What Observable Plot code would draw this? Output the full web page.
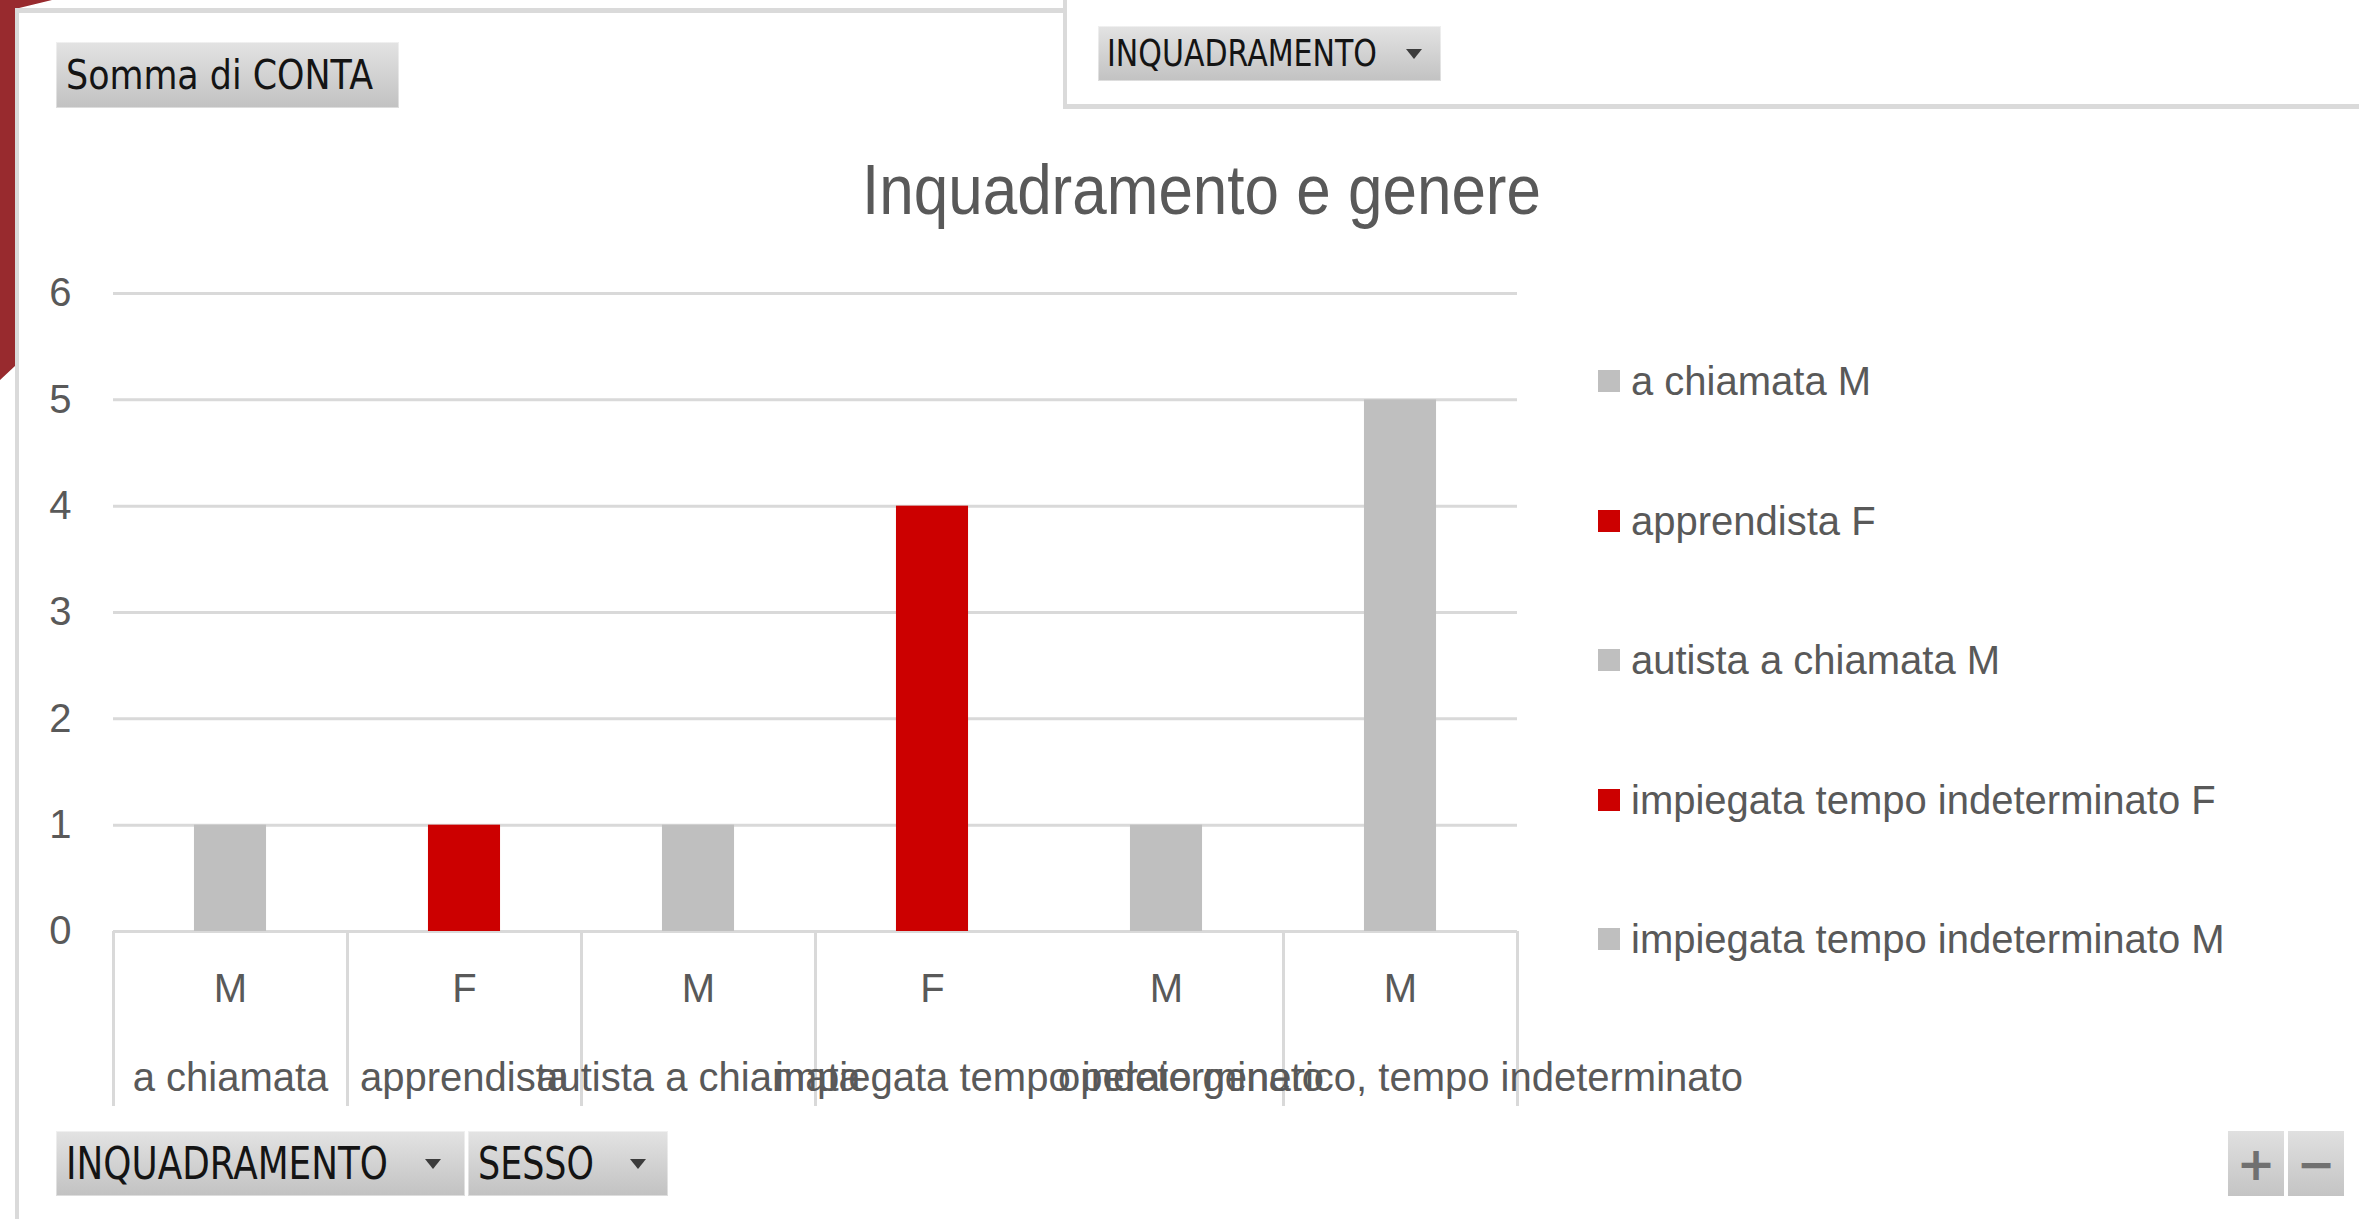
<!DOCTYPE html>
<html>
<head>
<meta charset="utf-8">
<script src="https://cdn.jsdelivr.net/npm/d3@7"></script>
<script src="https://cdn.jsdelivr.net/npm/@observablehq/plot@0.6"></script>
<style>
  html, body { margin: 0; padding: 0; background: #ffffff; }
  body { width: 2359px; height: 1219px; position: relative; overflow: hidden; font-family: "Liberation Sans", Arial, sans-serif; }
  .abs { position: absolute; }
  .fitText { display: inline-block; white-space: nowrap; transform-origin: left center; }
  .btn { position: absolute; background: linear-gradient(#e3e3e3, #c2c2c2); box-shadow: inset 0 0 0 1px rgba(255,255,255,0.45); display: flex; align-items: center; }
  .btn .fitText { font-family: "DejaVu Sans", Tahoma, sans-serif; color: #141414; line-height: 1; }
  .arrow { position: absolute; width: 0; height: 0; border-left: 8px solid transparent; border-right: 8px solid transparent; border-top: 10px solid #3c3c3c; }
  .pm { position: absolute; background: linear-gradient(#e0e0e0, #c4c4c4); display: flex; align-items: center; justify-content: center; color: #707070; font-family: "DejaVu Sans", sans-serif; font-weight: bold; font-size: 46px; line-height: 1; }
  #legend { position: absolute; left: 1598px; top: 361px; display: flex; flex-direction: column; gap: 99.5px; }
  .item { display: flex; align-items: center; height: 40px; font-size: 40px; color: #595959; line-height: 1; white-space: nowrap; }
  .sw { width: 22px; height: 22px; margin-right: 11px; }
  #chart { position: absolute; left: 0; top: 0; }
</style>
</head>
<body>
<script>
// ---- Data ----
const inquadramento = [
  "a chiamata",
  "apprendista",
  "autista a chiamata",
  "impiegata tempo indeterminato",
  "impiegata tempo indeterminato",
  "operaio generico, tempo indeterminato"
];
const sesso = ["M", "F", "M", "F", "M", "M"];
const conta = [1, 1, 1, 4, 1, 5];
const yTicks = [0, 1, 2, 3, 4, 5, 6];
const sessoDomain = ["F", "M"];
const sessoColors = ["#CC0000", "#BFBFBF"];
const titleText = "Inquadramento e genere";
const legendVisible = 5; // the reference legend shows only the first five series

// ---- Derived tables ----
const rows = inquadramento.map((q, i) => ({i, q, s: sesso[i], v: conta[i]}));
const groups = [];
rows.forEach(r => {
  const g = groups[groups.length - 1];
  if (g && g.label === r.q) g.end = r.i;
  else groups.push({label: r.q, start: r.i, end: r.i});
});
groups.forEach(g => g.center = (g.start + g.end) / 2);
const bounds = [groups[0].start - 0.5, ...groups.map(g => g.end + 0.5)];

// ---- Chart ----
const chart = Plot.plot({
  width: 1800,
  height: 1130,
  marginLeft: 113,
  marginRight: 283,
  marginTop: 293,
  marginBottom: 199,
  style: {background: "transparent", overflow: "visible", fontFamily: "'Liberation Sans', Arial, sans-serif", fontSize: "40px", color: "#595959"},
  x: {domain: [-0.5, rows.length - 0.5], axis: null},
  y: {domain: [0, 6], ticks: yTicks, tickFormat: d3.format("d"), label: null, tickSize: 0, tickPadding: 42},
  color: {domain: sessoDomain, range: sessoColors},
  marks: [
    Plot.ruleY(yTicks, {stroke: "#d9d9d9", strokeWidth: 3}),
    Plot.rect(rows, {x1: d => d.i - 0.154, x2: d => d.i + 0.154, y1: 0, y2: "v", fill: "s"}),
    Plot.ruleX(bounds, {x: d => d, y1: 0, y2: 0, insetBottom: -175, stroke: "#d9d9d9", strokeWidth: 3}),
    Plot.text(rows, {x: "i", text: "s", frameAnchor: "bottom", dy: 70, fill: "#595959", fontSize: 40}),
    Plot.text(groups, {x: "center", text: "label", frameAnchor: "bottom", dy: 159, fill: "#595959", fontSize: 40})
  ]
});
chart.id = "chart";
document.body.appendChild(chart);

// ---- Decorations (Excel pivot chart frame) ----
function addDiv(css, html) {
  const d = document.createElement("div");
  d.className = "abs";
  d.style.cssText += css;
  if (html) d.innerHTML = html;
  document.body.appendChild(d);
  return d;
}
// red sidebar
addDiv("left:0;top:0;width:52px;height:380px;background:#982a2e;clip-path:polygon(0 0,52px 0,15px 9px,15px 366px,0 380px);");
// chart frame lines
addDiv("left:15px;top:8px;width:4px;height:1211px;background:#dadada;");
addDiv("left:15px;top:8px;width:1050px;height:5px;background:#dadada;");
// filter panel
addDiv("left:1063px;top:0;width:4px;height:108px;background:#dadada;");
addDiv("left:1063px;top:104px;width:1296px;height:5px;background:#dadada;");

function fit(el, w) {
  const r = el.getBoundingClientRect().width;
  el.style.transform = `scaleX(${w / r})`;
}
function button(left, top, width, height, label, fontSize, textLeft, textWidth, arrowX) {
  const b = document.createElement("div");
  b.className = "btn";
  b.style.left = left + "px"; b.style.top = top + "px";
  b.style.width = width + "px"; b.style.height = height + "px";
  const t = document.createElement("span");
  t.className = "fitText";
  t.style.fontSize = fontSize + "px";
  t.style.marginLeft = (textLeft - left) + "px";
  t.textContent = label;
  b.appendChild(t);
  if (arrowX != null) {
    const a = document.createElement("div");
    a.className = "arrow";
    a.style.left = (arrowX - left - 8) + "px";
    a.style.top = (height / 2 - 5) + "px";
    b.appendChild(a);
  }
  document.body.appendChild(b);
  fit(t, textWidth);
}
button(56, 42, 343, 66, "Somma di CONTA", 41, 66, 307, null);
button(1098, 26, 343, 55, "INQUADRAMENTO", 37, 1107, 270, 1414);
button(56, 1131, 409, 65, "INQUADRAMENTO", 44, 66, 322, 433);
button(468, 1131, 200, 65, "SESSO", 44, 478, 116, 638);

const plus = document.createElement("div"); plus.className = "pm";
plus.style.cssText += "left:2228px;top:1131px;width:56px;height:65px;"; plus.textContent = "+";
document.body.appendChild(plus);
const minus = document.createElement("div"); minus.className = "pm";
minus.style.cssText += "left:2288px;top:1131px;width:56px;height:65px;"; minus.textContent = "\u2212";
document.body.appendChild(minus);

// ---- Title ----
const title = document.createElement("div");
title.className = "abs";
title.style.cssText += "left:862px;top:155px;";
const tspan = document.createElement("span");
tspan.className = "fitText";
tspan.style.cssText += "font-size:70px;line-height:1;color:#595959;font-family:'Liberation Sans',Arial,sans-serif;";
tspan.textContent = titleText;
title.appendChild(tspan);
document.body.appendChild(title);
fit(tspan, 679);

// ---- Legend ----
const legend = document.createElement("div");
legend.id = "legend";
rows.slice(0, legendVisible).forEach(r => {
  const it = document.createElement("div");
  it.className = "item";
  const sw = document.createElement("div");
  sw.className = "sw";
  sw.style.background = sessoColors[sessoDomain.indexOf(r.s)];
  const tx = document.createElement("span");
  tx.textContent = `${r.q} ${r.s}`;
  it.appendChild(sw); it.appendChild(tx);
  legend.appendChild(it);
});
document.body.appendChild(legend);
</script>
</body>
</html>
